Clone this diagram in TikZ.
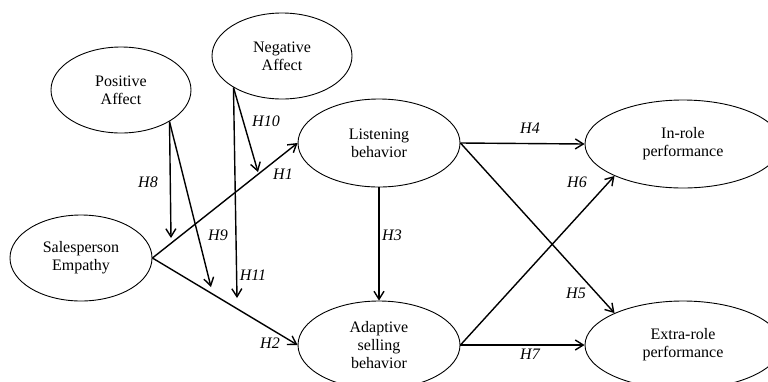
\documentclass[tikz,border=0pt]{standalone}
\usepackage{fontspec}
\setmainfont{Liberation Serif}
\usepackage{tikz}
\usetikzlibrary{positioning,shapes.geometric,arrows.meta,calc}

\begin{document}
\begin{tikzpicture}[
    x=1pt, y=-1pt, % pixel grid, y pointing down
    every node/.style={font=\fontsize{16}{18}\selectfont, align=center}, % General node style
    construct/.style={draw, ellipse, inner sep=0pt, line width=0.9pt}, % latent construct
    link/.style={-{Straight Barb[length=8pt,width=10pt]}, line width=1.4pt}, % hypothesis path
    hyp/.style={font=\fontsize{16}{18}\selectfont\itshape} % hypothesis label
]
\clip (0,0) rectangle (768,381);

% constructs
\node[construct, minimum width=140, minimum height=86] (pos) at (121,90) {Positive\\Affect};
\node[construct, minimum width=140, minimum height=86] (neg) at (282,56) {Negative\\Affect};
\node[construct, minimum width=142, minimum height=86] (emp) at (81,258) {Salesperson\\Empathy};
\node[construct, minimum width=162, minimum height=88] (lis) at (379,143) {Listening\\behavior};
\node[construct, minimum width=162, minimum height=88] (ada) at (379,345) {Adaptive\\selling\\behavior};
\node[construct, minimum width=196, minimum height=88] (inr) at (683,144) {In-role\\performance};
\node[construct, minimum width=196, minimum height=88] (exr) at (683,345) {Extra-role\\performance};

% end points of the moderating paths
\coordinate (m8) at (171,238);
\coordinate (m9) at (211,287);
\coordinate (m10) at (258,172);
\coordinate (m11) at (237,298);

% direct paths
\draw[link] (emp.east) -- (lis.west);
\draw[link] (emp.east) -- (ada.west);
\draw[link] (lis.south) -- (ada.north);
\draw[link] (lis.east) -- (inr.west);
\draw[link] (lis.east) -- (exr.155);
\draw[link] (ada.east) -- (inr.205);
\draw[link] (ada.east) -- (exr.west);

% moderating paths
\draw[link] (pos.-33) -- (m8);
\draw[link] (pos.-33) -- (m9);
\draw[link] (neg.-147) -- (m10);
\draw[link] (neg.-147) -- (m11);

% hypothesis labels
\node[hyp] (h1) at (283,174) {H1};
\node[hyp] (h2) at (270,343) {H2};
\node[hyp] (h3) at (392,235) {H3};
\node[hyp] (h4) at (530,128) {H4};
\node[hyp] (h5) at (576,293) {H5};
\node[hyp] (h6) at (577,182) {H6};
\node[hyp] (h7) at (530,354) {H7};
\node[hyp] (h8) at (148,182) {H8};
\node[hyp] (h9) at (218,235) {H9};
\node[hyp] (h10) at (266,121) {H10};
\node[hyp] (h11) at (253,275) {H11};
\end{tikzpicture}
\end{document}
